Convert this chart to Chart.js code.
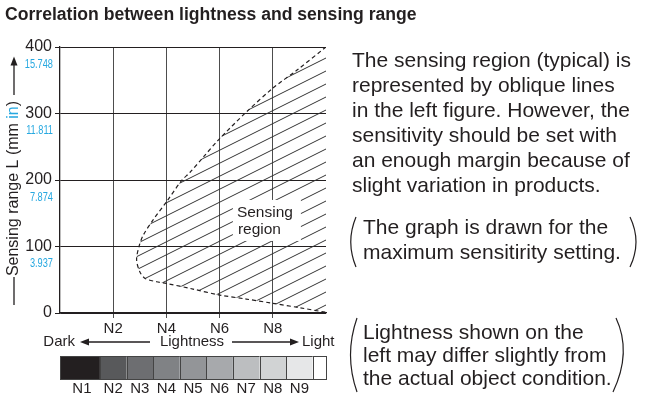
<!DOCTYPE html>
<html>
<head>
<meta charset="utf-8">
<script src="https://cdn.jsdelivr.net/npm/chart.js@4.4.1/dist/chart.umd.min.js"></script>
<style>
    body { margin: 0; background: #fff; font-family: 'Liberation Sans', Arial, sans-serif; color: #231f20; }
    #wrap { position: relative; width: 672px; height: 405px; overflow: hidden; }
    #graph { position: absolute; left: 0; top: 0; }
    .txt { position: absolute; white-space: nowrap; font-size: 21px; line-height: 25px; }
    #title { position: absolute; left: 5px; top: 4px; font-size: 17.6px; line-height: 20px; font-weight: bold; white-space: nowrap; }
    #parens { position: absolute; left: 0; top: 0; }
</style>
</head>
<body>
<div id="wrap">
    <canvas id="graph" width="672" height="405"></canvas>
    <div id="title">Correlation between lightness and sensing range</div>
    <div class="txt" style="left:352px; top:47px;">
        The sensing region (typical) is<br>
        represented by oblique lines<br>
        in the left figure. However, the<br>
        sensitivity should be set with<br>
        an enough margin because of<br>
        slight variation in products.
    </div>
    <div class="txt" style="left:363px; top:214px;">
        The graph is drawn for the<br>
        maximum sensitirity setting.
    </div>
    <div class="txt" style="left:363px; top:320px; line-height:23px;">
        Lightness shown on the<br>
        left may differ slightly from<br>
        the actual object condition.
    </div>
    <svg id="parens" width="672" height="405">
        <g fill="none" stroke="#231f20" stroke-width="1.2">
            <path d="M356,217 Q345.5,242 356,267"/>
            <path d="M630,217 Q642,242 630,267"/>
            <path d="M357,318 Q344,355 357,392"/>
            <path d="M616,318 Q632,352 613,392"/>
        </g>
    </svg>
</div>
<script>
var FONT = "'Liberation Sans', Arial, sans-serif";
var INK = '#231f20';
var BLUE = '#27a8e0';

// boundary of the sensing region (lightness N, distance mm), traced top-right -> nose -> bottom-right
var boundaryN = [10, 8.9, 8.0, 7.0, 5.95, 5.4, 4.9, 4.57, 4.0, 3.5, 3.13, 2.97, 2.88, 3.0, 3.2, 3.63, 4.0, 5.0, 6.0, 7.0, 8.0, 9.0, 10];
var boundaryL = [400, 365, 338, 302, 260, 235, 212, 199, 167, 140, 117, 100, 80, 62, 52, 47, 44.5, 36, 27, 21, 14.6, 8, 1];

var xTickValues = [2, 4, 6, 8];
var xTickLabels = ['N2', 'N4', 'N6', 'N8'];
var yTickValues = [0, 100, 200, 300, 400];
var inchLabels = ['', '3.937', '7.874', '11.811', '15.748'];

// grey scale strip under the axis
var greyNames = ['N1', 'N2', 'N3', 'N4', 'N5', 'N6', 'N7', 'N8', 'N9', ''];
var greyColors = ['#231f20', '#58595b', '#6d6e71', '#808285', '#939598', '#a7a9ac', '#bcbec0', '#d1d3d4', '#e6e7e8', '#ffffff'];
var greyEdges = [0, 1.5, 2.5, 3.5, 4.5, 5.5, 6.5, 7.5, 8.5, 9.5, 10];

function makeHatch() {
    var c = document.createElement('canvas');
    c.width = 26;
    c.height = 13;
    var g = c.getContext('2d');
    g.strokeStyle = '#333';
    g.lineWidth = 1;
    g.beginPath();
    g.moveTo(-26, 26); g.lineTo(52, -13);
    g.moveTo(-26, 39); g.lineTo(52, 0);
    g.moveTo(-26, 13); g.lineTo(52, -26);
    g.stroke();
    return g.createPattern(c, 'repeat');
}

function arrowHead(ctx, x, y, dir) {
    ctx.beginPath();
    ctx.moveTo(x, y);
    ctx.lineTo(x - dir * 9, y - 3.5);
    ctx.lineTo(x - dir * 9, y + 3.5);
    ctx.closePath();
    ctx.fill();
}

var decor = {
    id: 'decor',
    afterDatasetsDraw: function (chart) {
        var ctx = chart.ctx;
        var xs = chart.scales.x, ys = chart.scales.y;
        // "Sensing region" label on a white patch
        var bx = xs.getPixelForValue(6.5), by = ys.getPixelForValue(170);
        ctx.save();
        ctx.fillStyle = '#fff';
        ctx.fillRect(bx, by, 68, 41);
        ctx.fillStyle = INK;
        ctx.font = '15.5px ' + FONT;
        ctx.textBaseline = 'middle';
        ctx.textAlign = 'left';
        ctx.fillText('Sensing', bx + 4, by + 13);
        ctx.fillText('region', bx + 5, by + 30);
        ctx.restore();
    },
    afterDraw: function (chart) {
        var ctx = chart.ctx;
        var xs = chart.scales.x, ys = chart.scales.y;
        ctx.save();

        // inch values under the mm tick labels
        ctx.fillStyle = BLUE;
        ctx.font = '13px ' + FONT;
        ctx.textBaseline = 'middle';
        ctx.textAlign = 'right';
        yTickValues.forEach(function (v, i) {
            if (!inchLabels[i]) return;
            var py = ys.getPixelForValue(v) + 17;
            ctx.save();
            ctx.translate(53, py);
            ctx.scale(0.71, 1);
            ctx.fillText(inchLabels[i], 0, 0);
            ctx.restore();
        });

        // rotated y axis title with lines and arrow
        ctx.save();
        ctx.translate(14, 188.5);
        ctx.rotate(-Math.PI / 2);
        ctx.font = '16px ' + FONT;
        ctx.textBaseline = 'middle';
        ctx.textAlign = 'left';
        var p1 = 'Sensing range L (mm ', p2 = 'in', p3 = ')';
        var w1 = ctx.measureText(p1).width, w2 = ctx.measureText(p2).width, w3 = ctx.measureText(p3).width;
        var x0 = -(w1 + w2 + w3) / 2;
        ctx.fillStyle = INK;
        ctx.fillText(p1, x0, 0);
        ctx.fillStyle = BLUE;
        ctx.fillText(p2, x0 + w1, 0);
        ctx.fillStyle = INK;
        ctx.fillText(p3, x0 + w1 + w2, 0);
        ctx.strokeStyle = INK;
        ctx.lineWidth = 1.3;
        ctx.beginPath();
        ctx.moveTo(-116.5, 0); ctx.lineTo(-88.5, 0);
        ctx.moveTo(93.5, 0); ctx.lineTo(124, 0);
        ctx.stroke();
        arrowHead(ctx, 132, 0, 1);
        ctx.restore();

        // Dark <--- Lightness ---> Light
        var ly = 342;
        ctx.fillStyle = INK;
        ctx.strokeStyle = INK;
        ctx.lineWidth = 1.3;
        ctx.font = '15px ' + FONT;
        ctx.textBaseline = 'middle';
        ctx.textAlign = 'right';
        ctx.fillText('Dark', 75, ly);
        ctx.textAlign = 'center';
        ctx.fillText('Lightness', 192, ly);
        ctx.textAlign = 'left';
        ctx.fillText('Light', 302, ly);
        ctx.beginPath();
        ctx.moveTo(88, ly); ctx.lineTo(150, ly);
        ctx.moveTo(232, ly); ctx.lineTo(291, ly);
        ctx.stroke();
        arrowHead(ctx, 80, ly, -1);
        arrowHead(ctx, 299, ly, 1);

        // grey scale strip
        var top = 356, h = 23;
        ctx.lineWidth = 1;
        for (var i = 0; i < greyColors.length; i++) {
            var a = xs.getPixelForValue(greyEdges[i]);
            var b = xs.getPixelForValue(greyEdges[i + 1]);
            ctx.fillStyle = greyColors[i];
            ctx.fillRect(a, top, b - a, h);
            ctx.strokeStyle = '#444';
            ctx.strokeRect(Math.round(a) + 0.5, top + 0.5, Math.round(b - a), h);
            if (greyNames[i]) {
                ctx.fillStyle = INK;
                ctx.textAlign = 'center';
                ctx.font = '15px ' + FONT;
                ctx.fillText(greyNames[i], (a + b) / 2 + (i === 0 ? 2 : 0), 389);
            }
        }
        ctx.restore();
    }
};

function createGraph() {
    var ctx = document.getElementById('graph').getContext('2d');

    var points = boundaryN.map(function (n, i) {
        return { x: n, y: boundaryL[i] };
    });

    var data = {
        datasets: [{
            data: points,
            borderColor: INK,
            borderWidth: 1.2,
            borderDash: [4, 3],
            pointRadius: 0,
            tension: 0.3,
            fill: 'shape',
            backgroundColor: makeHatch()
        }]
    };

    var options = {
        responsive: false,
        animation: false,
        devicePixelRatio: 1,
        layout: { padding: { left: 0, top: 47, right: 346, bottom: 0 } },
        plugins: {
            legend: { display: false },
            tooltip: { enabled: false }
        },
        scales: {
            x: {
                type: 'linear',
                min: 0,
                max: 10,
                afterBuildTicks: function (axis) {
                    axis.ticks = xTickValues.map(function (v) { return { value: v }; });
                },
                afterFit: function (axis) { axis.height = 92; },
                grid: { color: '#4d4d4d', lineWidth: 1, tickLength: 5 },
                border: { color: INK, width: 1.3 },
                ticks: {
                    color: INK,
                    font: { size: 15, family: FONT },
                    padding: 2,
                    maxRotation: 0,
                    autoSkip: false,
                    callback: function (v) { return xTickLabels[xTickValues.indexOf(v)]; }
                }
            },
            y: {
                type: 'linear',
                min: 0,
                max: 400,
                afterBuildTicks: function (axis) {
                    axis.ticks = yTickValues.map(function (v) { return { value: v }; });
                },
                afterFit: function (axis) { axis.width = 60; },
                grid: { color: INK, lineWidth: 1, tickLength: 5 },
                border: { color: INK, width: 1.3 },
                ticks: {
                    color: INK,
                    font: { size: 16, family: FONT },
                    padding: 3,
                    callback: function (v) { return String(v); }
                }
            }
        }
    };

    var chart = new Chart(ctx, {
        type: 'line',
        data: data,
        options: options,
        plugins: [decor]
    });
}

createGraph();
</script>
</body>
</html>
